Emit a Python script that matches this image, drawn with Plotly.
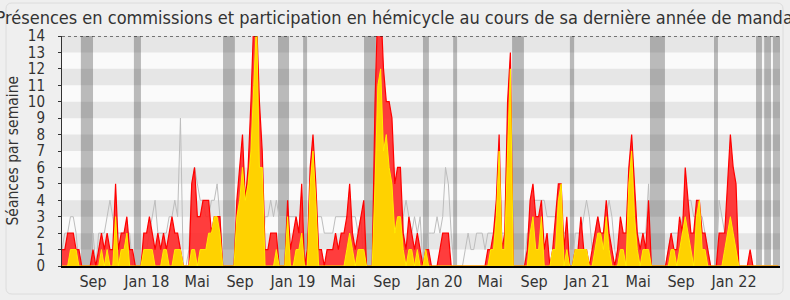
import plotly.graph_objects as go

# Weekly values (week index 0 = mid-June 2017)
commission = [
    1,1,2,2,2,1,1,0,0,0, 0,1,0,1,2,1,2,1,1,5,
    1,2,2,3,1,1,0,0,0,2, 2,3,2,1,2,1,2,1,2,3,
    2,2,1,0,0,0,5,6,3,3, 4,4,4,2,3,3,3,0,0,0,
    0,0,4,6,8,4,6,10,15,15, 10,7,1,1,2,2,2,0,0,0,
    4,1,2,3,2,5,0,1,6,8, 5,1,1,0,1,1,1,2,1,2,
    2,3,5,2,1,2,3,4,0,0, 0,10,16,16,12,10,10,9,5,6,
    6,2,1,3,2,1,2,1,0,1, 1,0,0,0,1,2,2,2,0,0,
    0,0,0,0,0,0,0,0,0,0, 0,1,1,2,4,8,1,2,10,13,
    0,0,0,0,0,1,4,5,3,3, 4,1,2,0,1,3,5,5,1,3,
    0,0,1,1,3,1,1,0,1,2, 3,2,2,4,2,1,0,1,3,2,
    2,6,8,5,2,1,2,1,4,0, 0,0,0,0,0,1,2,1,1,3,
    2,6,4,2,2,4,4,2,2,1, 0,0,0,2,2,2,5,8,6,5,
    0,0,0,0,1,0,0,0,0,0, 0,0,0,0,0,
]
hemicycle = [
    0,0,0,1,1,1,0,0,0,0, 0,0,0,0,1,0,1,0,0,3,
    0,1,1,2,0,0,0,0,0,1, 1,1,1,0,0,0,1,1,0,0,
    1,1,1,0,0,0,1,1,0,1, 1,1,2,2,3,3,2,0,0,0,
    0,0,3,4,6,4,5,7,11,15, 6,6,0,0,0,0,1,0,0,0,
    3,0,0,1,1,2,0,0,5,7, 4,0,0,0,0,0,0,0,0,0,
    0,1,2,1,0,1,1,1,0,0, 0,5,11,12,7,8,6,5,2,3,
    3,1,0,1,1,0,1,0,0,1, 0,0,0,0,0,0,0,0,0,0,
    0,0,0,0,0,0,0,0,0,0, 0,0,1,1,3,7,1,1,7,12,
    0,0,0,0,0,0,2,3,1,1, 3,0,0,0,1,1,4,5,0,1,
    0,0,1,1,1,1,1,0,0,1, 2,2,1,3,1,0,0,0,1,1,
    0,5,7,3,1,0,1,1,1,0, 0,0,0,0,0,0,1,1,0,1,
    2,3,2,1,0,3,4,1,1,0, 0,0,0,0,0,1,2,3,2,1,
    0,0,0,0,0,0,0,0,0,0, 0,0,0,0,0,
]
median = [
    1,2,2,3,3,2,0,0,0,0, 0,2,0,2,2,2,3,4,3,2,
    2,2,2,2,2,0,0,0,0,1, 1,2,3,4,2,2,2,2,3,3,
    4,3,9,0,0,1,5,6,5,4, 4,3,3,4,4,5,3,0,0,0,
    0,0,0,0,0,0,0,0,0,0, 0,0,3,3,4,3,4,3,3,3,
    3,3,3,3,2,2,0,0,0,0, 3,3,3,2,2,2,2,3,3,3,
    3,3,3,3,3,2,3,0,0,0, 0,0,0,0,0,0,0,0,0,0,
    0,3,4,3,2,3,2,3,0,0, 2,2,2,3,2,3,6,5,2,0,
    0,0,0,1,2,1,1,2,2,2, 1,2,2,2,2,2,2,2,2,0,
    0,0,0,0,0,2,2,4,4,4, 4,4,3,3,3,3,3,3,2,2,
    0,0,2,2,2,3,4,3,1,2, 3,2,2,3,4,3,1,0,2,2,
    2,2,2,2,2,2,2,2,5,0, 0,0,0,0,0,1,2,2,2,2,
    3,3,4,4,3,3,3,3,2,1, 0,0,0,4,3,2,2,2,2,2,
    0,0,0,0,0,0,0,0,0,0, 0,0,0,0,0,
]
weeks = list(range(len(commission)))

# Parliamentary recess periods (week index start, end)
recess_start = [6.7, 25.5, 57.1, 76.6, 85.5, 107.1, 128.0, 138.7, 159.6, 180.1, 208.5, 231.2, 246.1, 249.0, 252.1]
recess_end   = [11.0, 28.0, 61.3, 80.5, 86.9, 111.3, 130.1, 140.1, 163.8, 181.6, 213.8, 232.6, 248.2, 251.4, 254.6]

tick_pos = [11, 30.1, 47.9, 63.1, 81.9, 99.6, 115.2, 134.0, 151.8, 167.4, 186.2, 204.3, 219.5, 238.3]
tick_txt = ["Sep", "Jan 18", "Mai", "Sep", "Jan 19", "Mai", "Sep", "Jan 20", "Mai", "Sep", "Jan 21", "Mai", "Sep", "Jan 22"]

FONT = "DejaVu Sans Condensed, DejaVu Sans, sans-serif"

fig = go.Figure()
fig.add_trace(go.Scatter(x=weeks, y=median, mode="lines",
                         line=dict(color="#bdbdbd", width=1), hoverinfo="skip"))
fig.add_trace(go.Scatter(x=weeks, y=commission, mode="lines", fill="tozeroy",
                         fillcolor="rgba(255,40,40,0.9)",
                         line=dict(color="#ff0000", width=1.2), hoverinfo="skip"))
fig.add_trace(go.Scatter(x=weeks, y=hemicycle, mode="lines", fill="tozeroy",
                         fillcolor="#ffd200",
                         line=dict(color="#ffee00", width=1), hoverinfo="skip"))

shapes = []
for k in range(1, 14, 2):
    shapes.append(dict(type="rect", xref="paper", yref="y", x0=0, x1=1, y0=k, y1=k + 1,
                       fillcolor="#e6e6e6", line=dict(width=0), layer="below"))
for a, b in zip(recess_start, recess_end):
    shapes.append(dict(type="rect", xref="x", yref="paper", x0=a, x1=b, y0=0, y1=1,
                       fillcolor="rgba(40,40,40,0.3)", line=dict(width=0), layer="below"))
shapes.append(dict(type="line", xref="paper", yref="y", x0=0, x1=1, y0=14, y1=14,
                   line=dict(color="#000000", width=1, dash="dot")))
# outer rounded frame
W, H = 718.0, 230.0
def px(xp):
    return (xp - 62) / W
def py(yp):
    return (266 - yp) / H
x0, x1, y0, y1, r = 6, 783, 3, 294, 6
path = (f"M {px(x0+r)},{py(y0)} L {px(x1-r)},{py(y0)} Q {px(x1)},{py(y0)} {px(x1)},{py(y0+r)} "
        f"L {px(x1)},{py(y1-r)} Q {px(x1)},{py(y1)} {px(x1-r)},{py(y1)} "
        f"L {px(x0+r)},{py(y1)} Q {px(x0)},{py(y1)} {px(x0)},{py(y1-r)} "
        f"L {px(x0)},{py(y0+r)} Q {px(x0)},{py(y0)} {px(x0+r)},{py(y0)} Z")
shapes.append(dict(type="path", xref="paper", yref="paper", path=path,
                   line=dict(color="#dcdcdc", width=1), layer="below"))

fig.update_layout(
    width=790, height=300,
    margin=dict(l=62, r=10, t=36, b=34),
    paper_bgcolor="#efefef", plot_bgcolor="#fafafa",
    showlegend=False,
    shapes=shapes,
    title=dict(text="Présences en commissions et participation en hémicycle au cours de sa dernière année de mandat",
               x=0.503, xanchor="center", y=0.94, yanchor="middle",
               font=dict(family=FONT, size=18, color="#333333")),
    annotations=[dict(text="Séances par semaine", textangle=-90, xref="paper", yref="paper",
                      x=px(12.5), y=0.5, xanchor="center", yanchor="middle", showarrow=False,
                      font=dict(family=FONT, size=15.5, color="#333333"))],
    xaxis=dict(range=[0, 254.6], tickmode="array", tickvals=tick_pos, ticktext=tick_txt,
               showgrid=False, zeroline=False, showline=True, linecolor="#000000", linewidth=2,
               ticks="", tickfont=dict(family=FONT, size=16, color="#333333")),
    yaxis=dict(range=[0, 14], dtick=1, tick0=0, showgrid=False, zeroline=False,
               showline=True, linecolor="#333333", linewidth=1,
               ticks="outside", ticklen=3, tickcolor="#333333", ticklabelstandoff=10,
               tickfont=dict(family=FONT, size=15, color="#333333")),
)

fig.write_html("out.html")
